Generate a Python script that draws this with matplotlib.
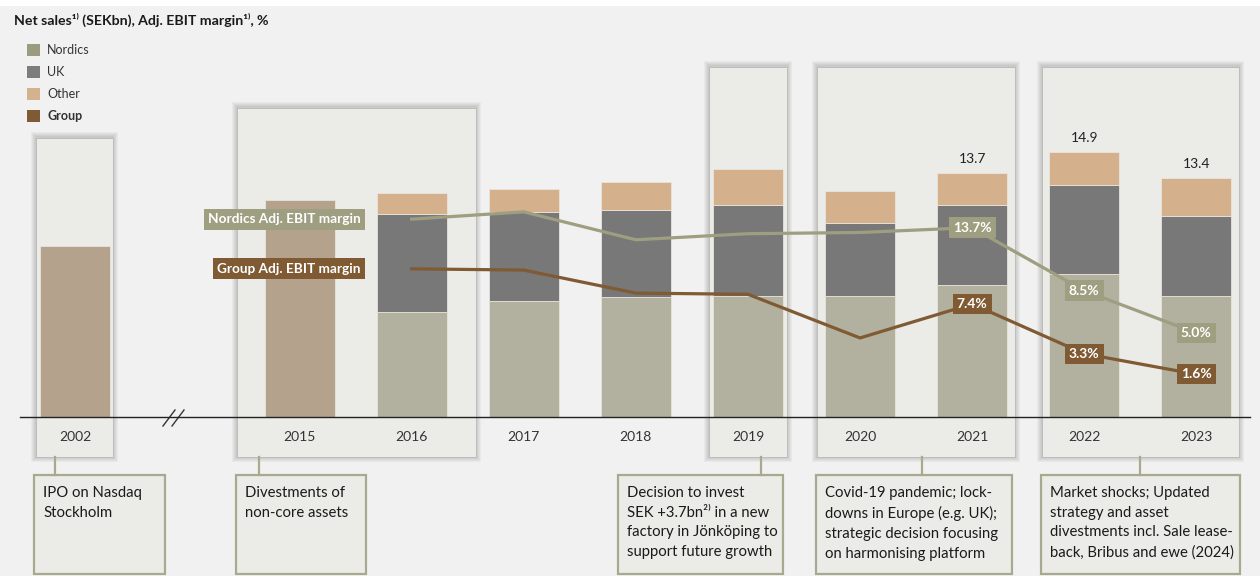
import matplotlib
matplotlib.use("Agg")
import matplotlib.pyplot as plt
from matplotlib.patches import Rectangle

plt.rcParams["font.family"] = ["Lato", "DejaVu Sans"]

# --- data ---------------------------------------------------------------
early_years = ["2002", "2015"]
early_pos = [0, 2]
early_sales = [9.6, 12.2]          # only group total shown

years = ["2016", "2017", "2018", "2019", "2020", "2021", "2022", "2023"]
year_pos = [3, 4, 5, 6, 7, 8, 9, 10]
nordics = [5.9, 6.5, 6.7, 6.8, 6.8, 7.4, 8.0, 6.8]
uk = [5.5, 5.0, 4.9, 5.1, 4.1, 4.5, 5.0, 4.5]
other = [1.2, 1.3, 1.6, 2.0, 1.8, 1.8, 1.9, 2.1]

nordics_margin = [14.4, 15.0, 12.7, 13.2, 13.3, 13.7, 8.5, 5.0]
group_margin = [10.3, 10.2, 8.3, 8.2, 4.6, 7.4, 3.3, 1.6]

total_labels = ["13.7", "14.9", "13.4"]   # for 2021-2023
label_idx = [5, 6, 7]

notes = [
    "IPO on Nasdaq\nStockholm",
    "Divestments of\nnon-core assets",
    "Decision to invest\nSEK +3.7bn\u00b2\u207e in a new\nfactory in J\u00f6nk\u00f6ping to\nsupport future growth",
    "Covid-19 pandemic; lock-\ndowns in Europe (e.g. UK);\nstrategic decision focusing\non harmonising platform",
    "Market shocks; Updated\nstrategy and asset\ndivestments incl. Sale lease-\nback, Bribus and ewe (2024)",
]

# --- colours ------------------------------------------------------------
C_NORD = "#b2b09f"
C_UK = "#787878"
C_OTHER = "#d4b08d"
C_TOTAL = "#b4a28c"
C_NLINE = "#9e9e80"
C_GLINE = "#7f5a33"
C_PANEL = "#ebebe7"
C_BOXEDGE = "#a9a98f"
BG = "#f1f1f1"

fig = plt.figure(figsize=(12.6, 5.76), dpi=100, facecolor=BG)

# decoration layer in pixel coordinates
deco = fig.add_axes([0, 0, 1, 1], zorder=0)
deco.set_xlim(0, 1260)
deco.set_ylim(576, 0)
deco.axis("off")
deco.add_patch(Rectangle((0, 0), 1260, 6, color="white", lw=0))


def panel(x0, x1, y0, y1):
    for k in range(1, 6):
        deco.add_patch(Rectangle((x0 - k, y0 - k - 1), x1 - x0 + 2 * k, y1 - y0 + 2 * k + 1,
                                 fc="#606060", ec="none", alpha=0.06))
    deco.add_patch(Rectangle((x0, y0), x1 - x0, y1 - y0, fc=C_PANEL,
                             ec="#b8b8b4", lw=0.6))


panel(36, 113, 138, 457)
panel(237, 476, 108, 457)
panel(709, 787, 67, 457)
panel(817, 1015, 67, 457)
panel(1042, 1239, 67, 457)

# note boxes + connectors
note_boxes = [(34, 165), (236, 366), (618, 783), (816, 1012), (1041, 1240)]
conn_x = [55, 259, 761, 922, 1140]
for (x0, x1), cx, txt in zip(note_boxes, conn_x, notes):
    deco.add_patch(Rectangle((x0, 475), x1 - x0, 99, fc=C_PANEL, ec=C_BOXEDGE, lw=1.6))
    deco.plot([cx, cx], [457, 475], color=C_BOXEDGE, lw=1.6)
    deco.text(x0 + 9, 486, txt, ha="left", va="top", fontsize=10.7,
              color="#1a1a1a", linespacing=1.52)

# axis break marks
deco.plot([163, 175], [426, 410], color="#333333", lw=1)
deco.plot([172, 184], [426, 410], color="#333333", lw=1)

# title + legend
deco.text(14, 20, "Net sales\u00b9\u207e (SEKbn), Adj. EBIT margin\u00b9\u207e, %",
          ha="left", va="center", fontsize=10.2, fontweight="bold", color="#1a1a1a")
leg = [("Nordics", "#9b9b7f", "normal"), ("UK", "#7d7d7d", "normal"),
       ("Other", "#d5b28f", "normal"), ("Group", "#7e5a35", "bold")]
for i, (name, col, w) in enumerate(leg):
    yc = 50 + i * 22
    deco.add_patch(Rectangle((27, yc - 6), 13, 12, fc=col, ec="none"))
    deco.text(47, yc, name, ha="left", va="center", fontsize=9,
              fontweight=w, color="#333333")

# --- bars ---------------------------------------------------------------
ax = fig.add_axes([0, 0, 1, 1], zorder=1)
ax.patch.set_visible(False)
ax.set_xlim(-0.672, 10.568)
ax.set_ylim(-8.97, 23.43)
ax.axis("off")

bw = 0.624
ek = dict(edgecolor="#e8e4dc", linewidth=0.6)
ax.bar(early_pos, early_sales, width=bw, color=C_TOTAL, **ek)
ax.bar(year_pos, nordics, width=bw, color=C_NORD, **ek)
ax.bar(year_pos, uk, width=bw, bottom=nordics, color=C_UK, **ek)
bottom2 = [a + b for a, b in zip(nordics, uk)]
ax.bar(year_pos, other, width=bw, bottom=bottom2, color=C_OTHER, **ek)
totals = [a + b for a, b in zip(bottom2, other)]

ax.axhline(0, xmin=20 / 1260, xmax=1250 / 1260, color="#222222", lw=1)

for p, y in zip(early_pos + year_pos, early_years + years):
    ax.annotate(y, (p, 0), xytext=(0, -20), textcoords="offset pixels",
                ha="center", va="center", fontsize=10, color="#333333")

for i, lab in zip(label_idx, total_labels):
    ax.annotate(lab, (year_pos[i], totals[i]), xytext=(0, 14), textcoords="offset pixels",
                ha="center", va="center", fontsize=10, color="#222222")

# --- margin lines -------------------------------------------------------
ax2 = ax.twinx()
ax2.set_zorder(2)
ax2.patch.set_visible(False)
ax2.set_ylim(-15.04, 32.48)
ax2.axis("off")

ax2.plot(year_pos, nordics_margin, color=C_NLINE, lw=2.3, solid_joinstyle="miter")
ax2.plot(year_pos, group_margin, color=C_GLINE, lw=2.3, solid_joinstyle="miter")

lbl = dict(ha="center", va="center", fontsize=10, fontweight="bold", color="white")
for i in label_idx:
    ax2.text(year_pos[i], nordics_margin[i], f"{nordics_margin[i]:.1f}%",
             bbox=dict(boxstyle="square,pad=0.3", fc=C_NLINE, ec="none"), **lbl)
    ax2.text(year_pos[i], group_margin[i], f"{group_margin[i]:.1f}%",
             bbox=dict(boxstyle="square,pad=0.3", fc=C_GLINE, ec="none"), **lbl)

ax2.annotate("Nordics Adj. EBIT margin", (year_pos[0], nordics_margin[0]),
             xytext=(-51, 0), textcoords="offset pixels", ha="right", va="center",
             fontsize=9.8, fontweight="bold", color="white",
             bbox=dict(boxstyle="square,pad=0.32", fc=C_NLINE, ec="none"))
ax2.annotate("Group Adj. EBIT margin", (year_pos[0], group_margin[0]),
             xytext=(-51, 0), textcoords="offset pixels", ha="right", va="center",
             fontsize=9.8, fontweight="bold", color="white",
             bbox=dict(boxstyle="square,pad=0.32", fc=C_GLINE, ec="none"))

fig.savefig("out.png", dpi=100, facecolor=BG)
